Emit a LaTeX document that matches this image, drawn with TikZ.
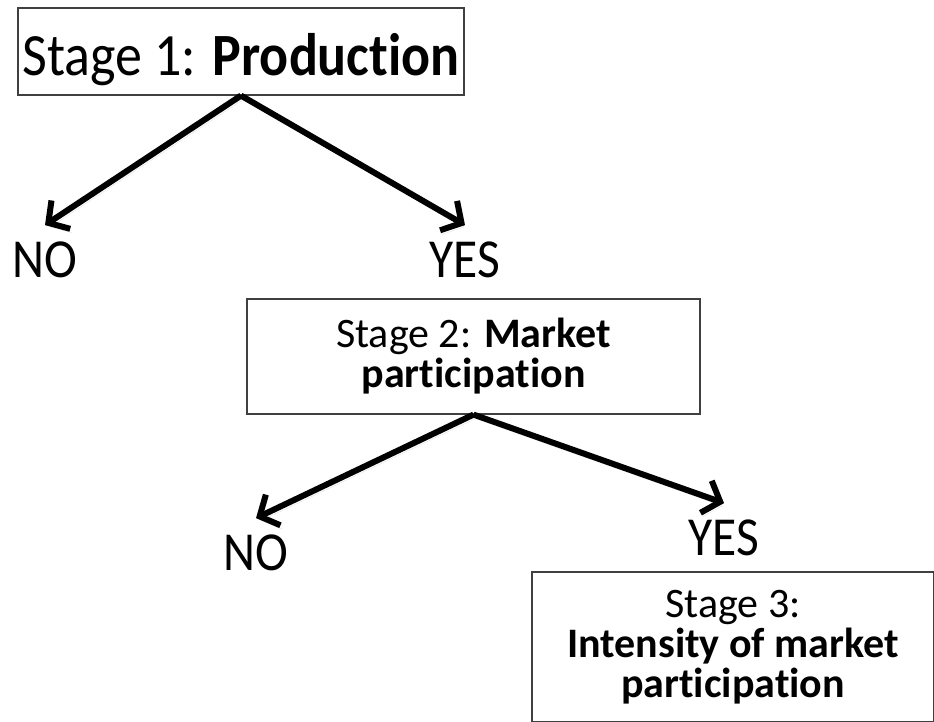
\documentclass[tikz,border=0pt]{standalone}
\usepackage{fontspec}
\setmainfont{Carlito}[Ligatures=NoCommon]
\newfontfamily\tallfont{Carlito}[Ligatures=NoCommon, FakeStretch=0.9]
\usetikzlibrary{arrows.meta}

\tikzset{
  stagebox/.style={draw=black!75, line width=1.2pt, align=center, inner sep=0pt},
  answer/.style={anchor=base, inner sep=16pt, font=\tallfont\fontsize{55}{60}\selectfont},
  branch/.style={line width=6pt, line join=miter,
    -{Straight Barb[length=15pt,width=34pt]},
    preaction={draw=black!12, transform canvas={shift={(2pt,-4pt)}}}}
}

\begin{document}
\begin{tikzpicture}[x=1pt,y=-1pt]

\clip (0,0) rectangle (934,721);

\node[stagebox, minimum width=446pt, minimum height=87pt, text height=58pt, text depth=11pt,
  font=\tallfont\fontsize{60}{66}\selectfont] (prod) at (241,51.5) {Stage 1: \textbf{Production}};

\node[stagebox, minimum width=453pt, minimum height=115pt,
  font=\fontsize{42}{40}\selectfont] (market) at (473.5,356.5)
  {Stage 2: \textbf{Market}\\\textbf{participation}};

\node[stagebox, minimum width=402pt, minimum height=150pt,
  font=\fontsize{42}{40}\selectfont] (intens) at (733,647)
  {Stage 3:\\\textbf{Intensity of market}\\\textbf{participation}};

\node[answer] (no1) at (45,277) {NO};
\node[answer] (yes1) at (465,277) {YES};
\node[answer] (no2) at (256,570) {NO};
\node[answer] (yes2) at (724,555) {YES};

\draw[branch] (prod.south) -- (no1.north);
\draw[branch] (prod.south) -- (yes1.north);
\draw[branch] (market.south) -- (no2.north);
\draw[branch] (market.south) -- (yes2.north);

\end{tikzpicture}
\end{document}
